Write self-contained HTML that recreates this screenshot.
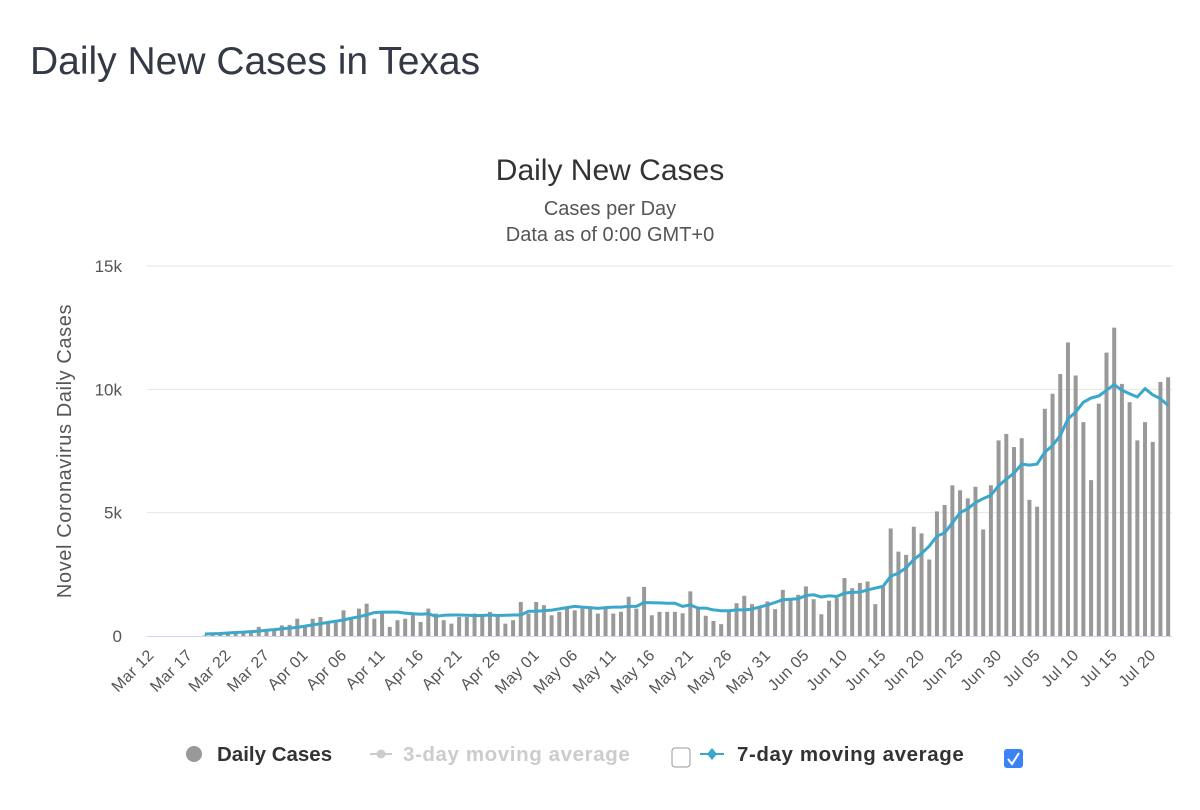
<!DOCTYPE html>
<html><head><meta charset="utf-8"><style>
body{margin:0;width:1200px;height:810px;background:#fff;font-family:"Liberation Sans",sans-serif;overflow:hidden;position:relative}
h1{position:absolute;left:30px;top:40px;margin:0;font-weight:normal;font-size:39px;color:#333a45}
svg{position:absolute;left:0;top:0}
</style></head><body>
<h1>Daily New Cases in Texas</h1>
<svg id="chart" width="1200" height="810"></svg>
<script>
const startDate = new Date(2020,2,12);
const dailyCases = [0,0,0,0,0,0,0,0.02,0.05,0.08,0.1,0.12,
0.14,0.16,0.37,0.24,0.30,0.43,0.45,0.70,0.40,0.70,0.77,0.61,0.61,1.04,0.77,1.11,1.31,0.70,0.95,0.37,0.64,0.70,0.88,0.57,1.11,0.91,0.64,0.50,0.77,0.77,0.91,0.84,0.98,0.77,0.50,0.64,1.38,0.91,1.38,1.25,0.84,0.98,1.11,1.04,1.11,1.11,0.91,1.11,0.91,0.98,1.59,1.11,1.99,0.84,0.98,0.98,0.98,0.92,
1.81,1.13,0.82,0.61,0.48,0.99,1.33,1.63,1.29,1.13,1.40,1.09,1.87,1.47,1.67,2.01,1.49,0.88,1.43,1.54,2.35,1.94,2.15,2.21,1.29,1.98,4.36,3.42,3.29,4.43,4.16,3.10,5.05,5.31,6.11,5.91,5.58,6.05,4.32,6.11,7.93,8.19,7.66,8.02,5.52,5.24,9.21,9.82,10.62,11.90,10.56,8.67,6.32,9.42,11.49,12.5,10.22,9.48,7.93,8.67,7.87,10.3,10.49];
const avg7 = [null,null,null,null,null,null,null,0.08,0.09,0.1,0.12,0.14,0.16,0.18,0.2,0.23,0.26,0.29,0.32,0.35,0.4,0.45,0.5,0.55,0.6,0.65,0.72,0.78,0.86,0.95,0.97,0.97,0.97,0.93,0.9,0.88,0.9,0.8,0.84,0.85,0.85,0.84,0.83,0.83,0.85,0.83,0.84,0.85,0.85,1.0,1.0,1.03,1.05,1.1,1.15,1.2,1.17,1.15,1.12,1.15,1.17,1.17,1.2,1.2,1.36,1.35,1.34,1.33,1.33,1.2,
1.26,1.13,1.13,1.06,1.02,1.02,1.06,1.06,1.09,1.17,1.26,1.36,1.47,1.49,1.51,1.64,1.67,1.58,1.63,1.60,1.74,1.77,1.78,1.87,1.94,2.01,2.42,2.55,2.76,3.10,3.34,3.64,4.05,4.18,4.59,5.0,5.16,5.41,5.57,5.71,6.09,6.36,6.60,6.97,6.93,6.97,7.45,7.72,8.13,8.80,9.08,9.48,9.65,9.73,9.96,10.19,9.96,9.82,9.69,10.03,9.78,9.62,9.35];
const yTicks = [0,5,10,15];
const yTickLabels = ["0","5k","10k","15k"];
const months = ["Jan","Feb","Mar","Apr","May","Jun","Jul","Aug"];

const NS="http://www.w3.org/2000/svg";
const svg=document.getElementById('chart');
const L=147,R=1172,Y0=636,Ytop=266;
const n=dailyCases.length, step=(R-L)/n;
const xs=i=>L+(i+0.5)*step;
const ys=v=>Y0-(v/15)*(Y0-Ytop);
function mk(tag,attrs,txt){const e=document.createElementNS(NS,tag);for(const k in attrs)e.setAttribute(k,attrs[k]);if(txt!=null)e.textContent=txt;svg.appendChild(e);return e;}

let e;
e=mk('text',{x:610,y:180,'text-anchor':'middle','font-size':30,fill:'#333'},'Daily New Cases');


e=mk('text',{x:610,y:215,'text-anchor':'middle','font-size':20,fill:'#555'},'Cases per Day');


e=mk('text',{x:610,y:241,'text-anchor':'middle','font-size':20,fill:'#555'},'Data as of 0:00 GMT+0');


e=mk('text',{x:0,y:0,'text-anchor':'middle','font-size':20,'letter-spacing':0.6,fill:'#555',transform:'translate(71,451) rotate(-90)'},'Novel Coronavirus Daily Cases');



yTicks.forEach((t,i)=>{
  const y=ys(t);
  if(t>0){e=mk('line',{x1:L,x2:R,y1:y,y2:y,stroke:'#e6e6e6','stroke-width':1});
  
  }
  e=mk('text',{x:122,y:y+6,'text-anchor':'end','font-size':17,fill:'#555'},yTickLabels[i]);
  
  
});

dailyCases.forEach((v,i)=>{
  if(v<=0)return;
  const y=ys(v);
  e=mk('rect',{x:xs(i)-2,y:y,width:4,height:Y0-y,fill:'#999'});
  
  
});
e=mk('line',{x1:L,x2:R,y1:Y0+0.5,y2:Y0+0.5,stroke:'#ccd6eb','stroke-width':1});



let d='';
avg7.forEach((v,i)=>{if(v==null)return;d+=(d?'L':'M')+xs(i).toFixed(1)+','+ys(v).toFixed(1);});
e=mk('path',{d:d,fill:'none',stroke:'#3aa7cb','stroke-width':3,'stroke-linejoin':'round'});



for(let i=0;i<n;i+=5){
  const dt=new Date(startDate);dt.setDate(dt.getDate()+i);
  const lab=months[dt.getMonth()]+' '+String(dt.getDate()).padStart(2,'0');
  const x=xs(i);
  e=mk('text',{x:0,y:0,'text-anchor':'end','font-size':16,'letter-spacing':0.4,fill:'#555',transform:`translate(${x+4},${Y0+20}) rotate(-45)`},lab);
  
  
}

// legend
e=mk('circle',{cx:194,cy:754,r:8,fill:'#999'});


e=mk('text',{x:217,y:761,'font-size':20.5,'font-weight':'bold',fill:'#333'},'Daily Cases');


e=mk('line',{x1:370,x2:392,y1:754,y2:754,stroke:'#ccc','stroke-width':2});


e=mk('circle',{cx:381,cy:754,r:4.5,fill:'#ccc'});


e=mk('text',{x:403,y:761,'font-size':20.5,'font-weight':'bold','letter-spacing':0.6,fill:'#ccc'},'3-day moving average');


e=mk('rect',{x:672,y:748,width:18,height:19,rx:3,fill:'#fff',stroke:'#999','stroke-width':1});


e=mk('line',{x1:700,x2:724,y1:754,y2:754,stroke:'#3aa7cb','stroke-width':2});


e=mk('path',{d:'M712,748L717,754L712,760L707,754Z',fill:'#3aa7cb'});


e=mk('text',{x:737,y:761,'font-size':20.5,'font-weight':'bold','letter-spacing':0.6,fill:'#333'},'7-day moving average');


e=mk('rect',{x:1004,y:749,width:19,height:19,rx:3,fill:'#3b82f6'});


e=mk('path',{d:'M1008,759L1012,764L1019,753',fill:'none',stroke:'#fff','stroke-width':2});


</script>
</body></html>
